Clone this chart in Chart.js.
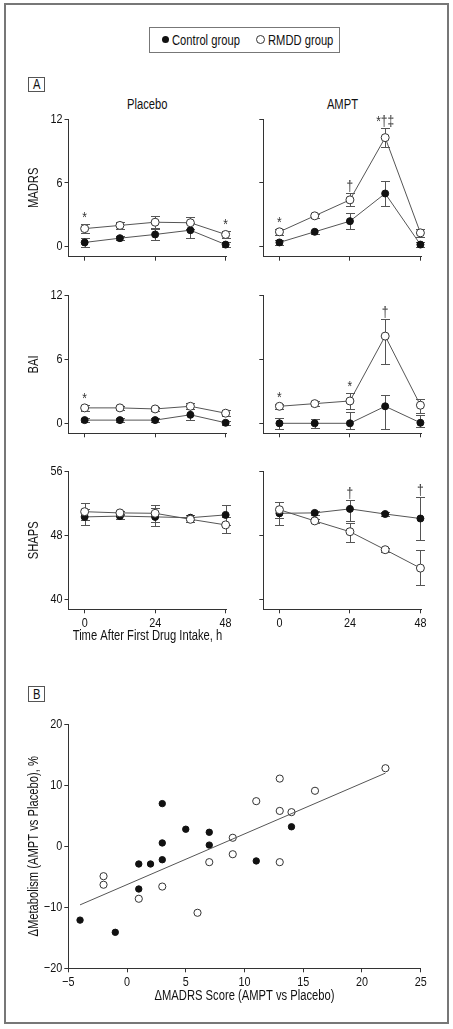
<!DOCTYPE html>
<html><head><meta charset="utf-8">
<script src="https://cdn.jsdelivr.net/npm/chart.js@4.4.1/dist/chart.umd.min.js"></script>
<style>
html,body{margin:0;padding:0;background:#fff;}
body{width:453px;height:1029px;position:relative;overflow:hidden;font-family:"Liberation Sans",Arial,sans-serif;color:#111;}
#frame{position:absolute;left:4px;top:3px;width:441px;height:1017px;border:2px solid #777;}
canvas{position:absolute;left:0;top:0;}
.n{display:inline-block;transform:scaleX(0.8);white-space:nowrap;}
.lg{position:absolute;left:149px;top:27px;width:189px;height:24px;border:1px solid #777;font-size:14px;}
.lg span.n{position:absolute;line-height:16px;top:4px;transform-origin:0 50%;}
.dot{position:absolute;border-radius:50%;box-sizing:border-box;}
.tag{position:absolute;left:28px;width:15px;border:1px solid #555;font-size:14px;text-align:center;}
.tag .n{transform-origin:50% 50%;}
.hd{position:absolute;top:96px;height:16px;line-height:16px;font-size:14px;text-align:center;}
.hd .n{transform-origin:50% 50%;}
</style></head>
<body>
<div id="frame"></div>
<div class="lg">
  <div class="dot" style="left:12px;top:8px;width:7px;height:7px;background:#111;"></div>
  <span class="n" style="left:22px;">Control group</span>
  <div class="dot" style="left:106px;top:7px;width:9px;height:9px;border:1px solid #333;background:#fff;"></div>
  <span class="n" style="left:118px;">RMDD group</span>
</div>
<div class="tag" style="top:77px;height:13px;line-height:13px;"><span class="n">A</span></div>
<div class="hd" style="left:68px;width:159px;"><span class="n">Placebo</span></div>
<div class="hd" style="left:263px;width:158px;"><span class="n">AMPT</span></div>
<div class="tag" style="top:686px;height:14px;line-height:14px;"><span class="n">B</span></div>
<canvas id="c1" width="453" height="1029"></canvas>
<canvas id="c2" width="453" height="1029"></canvas>
<canvas id="c3" width="453" height="1029"></canvas>
<canvas id="c4" width="453" height="1029"></canvas>
<canvas id="c5" width="453" height="1029"></canvas>
<canvas id="c6" width="453" height="1029"></canvas>
<canvas id="c7" width="453" height="1029"></canvas>
<script>
// ---------- data ----------
const timePoints = [0, 12, 24, 36, 48];
const xTickValues = [0, 24, 48];
const madrsTicks = [0, 6, 12];
const baiTicks = [0, 6, 12];
const shapsTicks = [40, 48, 56];

// MADRS - Placebo
const madrsPlaceboControl = [0.4, 0.8, 1.15, 1.55, 0.2];
const madrsPlaceboControlErr = [0.4, 0.2, 0.55, 0.7, 0.2];
const madrsPlaceboRmdd = [1.7, 2.0, 2.3, 2.25, 1.15];
const madrsPlaceboRmddErr = [0.45, 0.3, 0.55, 0.55, 0.35];
const madrsPlaceboMarks = [[0, '*'], [48, '*']];
// MADRS - AMPT
const madrsAmptControl = [0.4, 1.4, 2.4, 5.0, 0.2];
const madrsAmptControlErr = [0.2, 0.2, 0.75, 1.15, 0.2];
const madrsAmptRmdd = [1.4, 2.9, 4.4, 10.25, 1.3];
const madrsAmptRmddErr = [0.3, 0.2, 0.6, 0.9, 0.35];
const madrsAmptMarks = [[0, '*'], [24, '†'], [36, '*†‡']];
// BAI - Placebo
const baiPlaceboControl = [0.3, 0.3, 0.3, 0.8, 0.05];
const baiPlaceboControlErr = [0.2, 0.2, 0.2, 0.5, 0.2];
const baiPlaceboRmdd = [1.45, 1.45, 1.35, 1.6, 0.95];
const baiPlaceboRmddErr = [0.25, 0.2, 0.2, 0.3, 0.3];
const baiPlaceboMarks = [[0, '*']];
// BAI - AMPT  (asymmetric bars as [down, up])
const baiAmptControl = [0, 0, 0, 1.6, 0.05];
const baiAmptControlErr = [0.5, 0.45, [0.55, 1.05], [2.1, 1.1], [0.4, 0.7]];
const baiAmptRmdd = [1.6, 1.85, 2.1, 8.2, 1.7];
const baiAmptRmddErr = [0.25, 0.25, 0.75, [2.6, 1.6], [0.7, 0.55]];
const baiAmptMarks = [[0, '*'], [24, '*'], [36, '†']];
// SHAPS - Placebo
const shapsPlaceboControl = [50.3, 50.4, 50.3, 50.2, 50.55];
const shapsPlaceboControlErr = [1.05, 0.3, 1.1, 0.3, 1.25];
const shapsPlaceboRmdd = [50.95, 50.8, 50.75, 50.0, 49.3];
const shapsPlaceboRmddErr = [1.05, 0.3, 1.1, 0.3, 1.05];
const shapsPlaceboMarks = [];
// SHAPS - AMPT
const shapsAmptControl = [50.75, 50.8, 51.3, 50.66, 50.1];
const shapsAmptControlErr = [1.4, 0.3, [1.5, 1.1], 0.2, 2.65];
const shapsAmptRmdd = [51.2, 49.8, 48.45, 46.2, 43.9];
const shapsAmptRmddErr = [1.0, 0.2, [1.25, 1.05], 0.25, [2.1, 2.3]];
const shapsAmptMarks = [[24, '†'], [48, '†']];

// Panel B scatter
const controlDeltaMadrs = [-4, -1, 1, 1, 2, 3, 3, 3, 5, 7, 7, 11, 14];
const controlDeltaMetab = [-12.1, -14.1, -2.9, -7.0, -2.9, 7.0, 0.55, -2.2, 2.8, 2.3, 0.2, -2.4, 3.2];
const rmddDeltaMadrs = [-2, -2, 1, 3, 6, 7, 9, 9, 11, 13, 13, 13, 14, 16, 22];
const rmddDeltaMetab = [-4.9, -6.3, -8.6, -6.6, -10.9, -2.6, 1.4, -1.3, 7.4, 11.1, 5.8, -2.6, 5.6, 9.1, 12.8];
const fitLineX = [-4, 22];
const fitLineY = [-9.6, 12.0];

// ---------- drawing ----------
const W = 453, H = 1029;
const FONT = '"Liberation Sans", Arial, sans-serif';
const NARROW = 0.8;
Chart.defaults.font.family = FONT;
Chart.defaults.color = '#111';

// horizontally condensed text on a canvas (narrow-sans look)
function condense(canvas){
  const ctx = canvas.getContext('2d');
  const f = ctx.fillText.bind(ctx), m = ctx.measureText.bind(ctx);
  ctx.fillText = function(t, x, y){ ctx.save(); ctx.translate(x, y); ctx.scale(NARROW, 1); f(t, 0, 0); ctx.restore(); };
  ctx.measureText = function(t){
    const r = m(t);
    return {width: r.width * NARROW,
      actualBoundingBoxAscent: r.actualBoundingBoxAscent, actualBoundingBoxDescent: r.actualBoundingBoxDescent,
      actualBoundingBoxLeft: r.actualBoundingBoxLeft * NARROW, actualBoundingBoxRight: r.actualBoundingBoxRight * NARROW,
      fontBoundingBoxAscent: r.fontBoundingBoxAscent, fontBoundingBoxDescent: r.fontBoundingBoxDescent};
  };
  return canvas;
}

function minus(v){ return (v < 0 ? '\u2212' : '') + Math.abs(v); }
function series(vals){ return timePoints.map((t, i) => ({x: t, y: vals[i]})); }
function errPair(e){ return Array.isArray(e) ? e : [e, e]; }

function makeErrorPlugin(marks){
  return {
    id: 'errorBars',
    beforeDatasetsDraw(chart){
      const ctx = chart.ctx, xs = chart.scales.x, ys = chart.scales.y;
      ctx.save();
      ctx.strokeStyle = '#555'; ctx.lineWidth = 1;
      chart.data.datasets.forEach(ds => {
        if (!ds.errors) return;
        ds.data.forEach((p, i) => {
          const [dn, up] = errPair(ds.errors[i]);
          const x = Math.round(xs.getPixelForValue(p.x)) + 0.5;
          const y1 = Math.round(ys.getPixelForValue(p.y - dn)) + 0.5;
          const y2 = Math.round(ys.getPixelForValue(p.y + up)) + 0.5;
          ctx.beginPath();
          ctx.moveTo(x, y1); ctx.lineTo(x, y2);
          ctx.moveTo(x - 4.5, y1); ctx.lineTo(x + 4.5, y1);
          ctx.moveTo(x - 4.5, y2); ctx.lineTo(x + 4.5, y2);
          ctx.stroke();
        });
      });
      ctx.restore();
    },
    afterDatasetsDraw(chart){
      const ctx = chart.ctx, xs = chart.scales.x, ys = chart.scales.y;
      ctx.save();
      ctx.fillStyle = '#333';
      ctx.font = '15px ' + FONT;
      ctx.textAlign = 'center'; ctx.textBaseline = 'alphabetic';
      marks.forEach(([xv, text]) => {
        const i = timePoints.indexOf(xv);
        let top = Infinity;
        chart.data.datasets.forEach(ds => {
          if (!ds.errors) return;
          const up = errPair(ds.errors[i])[1];
          top = Math.min(top, ys.getPixelForValue(ds.data[i].y + up));
        });
        ctx.fillText(text, xs.getPixelForValue(xv), top - 2);
      });
      ctx.restore();
    }
  };
}

const axisGrid = {drawOnChartArea: false, drawTicks: true, tickLength: 4, color: '#333', lineWidth: 1};
const axisBorder = {display: true, color: '#333', width: 1};

function linePanel(id, area, cfg){
  const yW = cfg.yTitle ? 43 : 20;
  const xH = cfg.xTitle ? 34.8 : 10;
  new Chart(condense(document.getElementById(id)), {
    type: 'line',
    data: {datasets: [
      {data: series(cfg.rmdd), errors: cfg.rmddErr, borderColor: '#555', borderWidth: 1,
       pointRadius: 4, pointBackgroundColor: '#fff', pointBorderColor: '#333', pointBorderWidth: 1, clip: false, tension: 0},
      {data: series(cfg.ctrl), errors: cfg.ctrlErr, borderColor: '#555', borderWidth: 1,
       pointRadius: 3.5, pointBackgroundColor: '#111', pointBorderColor: '#111', pointBorderWidth: 1, clip: false, tension: 0}
    ]},
    options: {
      responsive: false, animation: false, events: [],
      layout: {padding: {left: area.l - yW, top: area.t, right: W - area.r, bottom: H - area.b - xH}},
      plugins: {legend: {display: false}, tooltip: {enabled: false}},
      scales: {
        x: {type: 'linear', min: -5.5, max: 48.3,
            afterBuildTicks: s => { s.ticks = xTickValues.map(v => ({value: v})); },
            afterFit: s => { s.height = xH; },
            grid: axisGrid, border: axisBorder,
            ticks: {display: !!cfg.xTitle, font: {size: 13.5}, padding: 2, maxRotation: 0, autoSkip: false, color: '#111'},
            title: {display: !!cfg.xTitle, text: cfg.xTitle || '', font: {size: 14}, padding: 0, color: '#111'}},
        y: {type: 'linear', min: cfg.ymin, max: cfg.ymax,
            afterBuildTicks: s => { s.ticks = cfg.yTicks.map(v => ({value: v})); },
            afterFit: s => { s.width = yW; },
            grid: axisGrid, border: axisBorder,
            ticks: {display: !!cfg.yTitle, font: {size: 13.5}, padding: 2, color: '#111'},
            title: {display: !!cfg.yTitle, text: cfg.yTitle || '', font: {size: 14}, padding: 0, color: '#111'}}
      }
    },
    plugins: [makeErrorPlugin(cfg.marks)]
  });
}

const colP = {l: 68.5, r: 226.5}, colA = {l: 263.3, r: 421.3};
const rowM = {t: 119, b: 256.7}, rowB = {t: 295.7, b: 433.3}, rowS = {t: 471.3, b: 609.3};

linePanel('c1', {...colP, ...rowM}, {yTitle: 'MADRS', ymin: -0.94, ymax: 12, yTicks: madrsTicks,
  ctrl: madrsPlaceboControl, ctrlErr: madrsPlaceboControlErr, rmdd: madrsPlaceboRmdd, rmddErr: madrsPlaceboRmddErr, marks: madrsPlaceboMarks});
linePanel('c2', {...colA, ...rowM}, {ymin: -0.94, ymax: 12, yTicks: madrsTicks,
  ctrl: madrsAmptControl, ctrlErr: madrsAmptControlErr, rmdd: madrsAmptRmdd, rmddErr: madrsAmptRmddErr, marks: madrsAmptMarks});
linePanel('c3', {...colP, ...rowB}, {yTitle: 'BAI', ymin: -0.94, ymax: 12, yTicks: baiTicks,
  ctrl: baiPlaceboControl, ctrlErr: baiPlaceboControlErr, rmdd: baiPlaceboRmdd, rmddErr: baiPlaceboRmddErr, marks: baiPlaceboMarks});
linePanel('c4', {...colA, ...rowB}, {ymin: -0.94, ymax: 12, yTicks: baiTicks,
  ctrl: baiAmptControl, ctrlErr: baiAmptControlErr, rmdd: baiAmptRmdd, rmddErr: baiAmptRmddErr, marks: baiAmptMarks});
linePanel('c5', {...colP, ...rowS}, {yTitle: 'SHAPS', xTitle: 'Time After First Drug Intake, h', ymin: 38.75, ymax: 56, yTicks: shapsTicks,
  ctrl: shapsPlaceboControl, ctrlErr: shapsPlaceboControlErr, rmdd: shapsPlaceboRmdd, rmddErr: shapsPlaceboRmddErr, marks: shapsPlaceboMarks});
linePanel('c6', {...colA, ...rowS}, {xTitle: ' ', ymin: 38.75, ymax: 56, yTicks: shapsTicks,
  ctrl: shapsAmptControl, ctrlErr: shapsAmptControlErr, rmdd: shapsAmptRmdd, rmddErr: shapsAmptRmddErr, marks: shapsAmptMarks});

// Panel B
(function(){
  const area = {l: 68.3, r: 420.7, t: 724.3, b: 968.3};
  const yW = 43, xH = 36.5;
  const pts = (xs, ys) => xs.map((x, i) => ({x, y: ys[i]}));
  new Chart(condense(document.getElementById('c7')), {
    type: 'scatter',
    data: {datasets: [
      {type: 'line', data: pts(fitLineX, fitLineY), borderColor: '#555', borderWidth: 1, pointRadius: 0, showLine: true, clip: false},
      {data: pts(rmddDeltaMadrs, rmddDeltaMetab), pointRadius: 3.6, pointBackgroundColor: '#fff', pointBorderColor: '#333', pointBorderWidth: 1, clip: false},
      {data: pts(controlDeltaMadrs, controlDeltaMetab), pointRadius: 3.2, pointBackgroundColor: '#111', pointBorderColor: '#111', pointBorderWidth: 1, clip: false}
    ]},
    options: {
      responsive: false, animation: false, events: [],
      layout: {padding: {left: area.l - yW, top: area.t, right: W - area.r, bottom: H - area.b - xH}},
      plugins: {legend: {display: false}, tooltip: {enabled: false}},
      scales: {
        x: {type: 'linear', min: -5, max: 25, afterFit: s => { s.height = xH; },
            grid: axisGrid, border: axisBorder,
            ticks: {stepSize: 5, font: {size: 13.5}, padding: 2, maxRotation: 0, color: '#111', callback: v => minus(v)},
            title: {display: true, text: '\u0394MADRS Score (AMPT vs Placebo)', font: {size: 14}, padding: 0, color: '#111'}},
        y: {type: 'linear', min: -20, max: 20, afterFit: s => { s.width = yW; },
            grid: axisGrid, border: axisBorder,
            ticks: {stepSize: 10, font: {size: 13.5}, padding: 2, color: '#111', callback: v => minus(v)},
            title: {display: true, text: '\u0394Metabolism (AMPT vs Placebo), %', font: {size: 14}, padding: 0, color: '#111'}}
      }
    }
  });
})();
</script>
</body></html>
